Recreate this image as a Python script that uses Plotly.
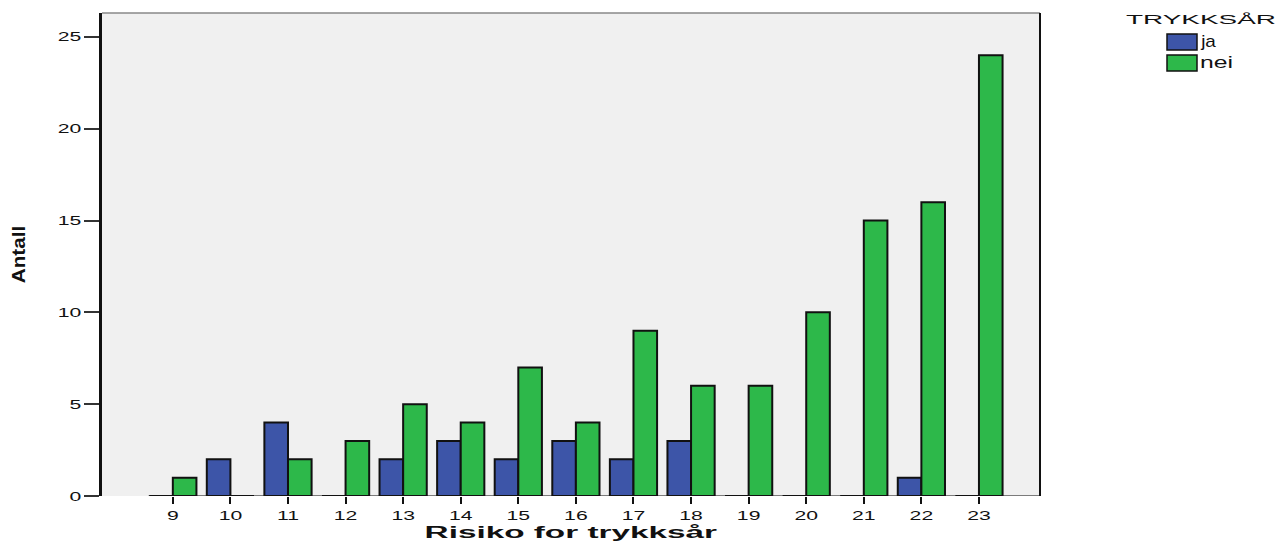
import plotly.graph_objects as go

risiko = [9, 10, 11, 12, 13, 14, 15, 16, 17, 18, 19, 20, 21, 22, 23]
tick_labels = [str(v) for v in risiko]
ja = [0, 2, 4, 0, 2, 3, 2, 3, 2, 3, 0, 0, 0, 1, 0]
nei = [1, 0, 2, 3, 5, 4, 7, 4, 9, 6, 6, 10, 15, 16, 24]
y_ticks = [0, 5, 10, 15, 20, 25]
series_names = ["ja", "nei"]
legend_title = "TRYKKSÅR"

BLUE = "#3D55A8"
GREEN = "#2DB84A"
FONT = "Liberation Sans, Arial, sans-serif"

x_range = [7.77, 24.06]
y_range = [0, 26.3]

# the page adds an 8px body margin; work in page pixels and convert
OFF = 8
PAGE_W, PAGE_H = 1288, 547
W, H = PAGE_W - OFF, PAGE_H - OFF
# plot area in page pixels
L, R, T, B = 102, 1040, 13, 496


def px_x(p):
    return (p - L) / (R - L)


def px_y(p):
    return (B - p) / (B - T)


fig = go.Figure()
fig.add_trace(go.Bar(x=risiko, y=ja, name=series_names[0], showlegend=False,
                     marker=dict(color=BLUE, line=dict(color="#111111", width=2))))
fig.add_trace(go.Bar(x=risiko, y=nei, name=series_names[1], showlegend=False,
                     marker=dict(color=GREEN, line=dict(color="#111111", width=2))))

fig.update_layout(
    width=W, height=H,
    margin=dict(l=L - OFF, r=PAGE_W - R, t=T - OFF, b=PAGE_H - B, autoexpand=False),
    paper_bgcolor="white", plot_bgcolor="#F0F0F0",
    barmode="group", bargap=0.18, bargroupgap=0,
    font=dict(family=FONT, size=13, color="#111111"),
    showlegend=False,
)
fig.update_xaxes(
    range=x_range, tickmode="array", tickvals=risiko, ticktext=tick_labels,
    ticks="outside", ticklen=7, tickwidth=2, tickcolor="#111111",
    showgrid=False, zeroline=False, showline=False, automargin=False,
    tickfont=dict(size=13, family=FONT),
    title=dict(text="<b>Risiko for trykksår</b>", font=dict(size=17, family=FONT), standoff=4),
)
fig.update_yaxes(
    range=y_range, tickmode="array", tickvals=y_ticks, ticktext=[str(t) for t in y_ticks],
    ticks="outside", ticklen=15, tickwidth=2, tickcolor="#333333",
    showgrid=False, zeroline=False, showline=True, linewidth=3, linecolor="#111111",
    automargin=False,
    tickfont=dict(size=13, family=FONT),
    title=dict(text="<b>Antall</b>", font=dict(size=18, family=FONT), standoff=37),
)
# frame: gray top, black right, baseline from first bar to the right edge
fig.add_shape(type="line", xref="paper", yref="paper", x0=0, x1=1, y0=1, y1=1,
              line=dict(color="#888888", width=1.5))
fig.add_shape(type="line", xref="paper", yref="paper", x0=1, x1=1, y0=0, y1=1,
              line=dict(color="#111111", width=2))
fig.add_shape(type="line", xref="x", yref="y", x0=risiko[0] - 0.42, x1=x_range[1], y0=0, y1=0,
              line=dict(color="#555555", width=1.5), layer="below")

# legend (drawn by hand to match the large swatches)
fig.add_annotation(xref="paper", yref="paper", x=px_x(1124), y=px_y(19), showarrow=False,
                   text=legend_title, font=dict(size=13, family=FONT),
                   xanchor="left", yanchor="middle")
for name, color, y0, y1 in [(series_names[0], BLUE, 34, 50), (series_names[1], GREEN, 55, 71)]:
    fig.add_shape(type="rect", xref="paper", yref="paper",
                  x0=px_x(1167), x1=px_x(1197), y0=px_y(y1), y1=px_y(y0),
                  fillcolor=color, line=dict(color="#111111", width=1.5))
    fig.add_annotation(xref="paper", yref="paper", x=px_x(1198), y=px_y((y0 + y1) / 2 - 1),
                       showarrow=False, text=name, font=dict(size=16, family=FONT),
                       xanchor="left", yanchor="middle")

# the reference's text is drawn stretched; widen the glyphs in place (text stays text)
stretch_js = """
var gd = document.getElementById('{plot_id}');
function scaleText(t, k, mode) {
  var b = t.getBBox();
  var anchor = mode || t.getAttribute('text-anchor') || 'start';
  var ax = anchor === 'middle' ? b.x + b.width / 2 : (anchor === 'end' ? b.x + b.width : b.x);
  var tr = t.getAttribute('transform') || '';
  t.setAttribute('transform', tr + ' translate(' + ax + ',0) scale(' + k + ',1) translate(' + (-ax) + ',0)');
}
gd.querySelectorAll('.xtick text').forEach(function (t) { scaleText(t, 1.63); });
gd.querySelectorAll('.ytick text').forEach(function (t) { scaleText(t, 1.63); });
gd.querySelectorAll('.g-xtitle text').forEach(function (t) { scaleText(t, 1.96); });
gd.querySelectorAll('.g-ytitle text').forEach(function (t) { scaleText(t, 1.15); });
var targets = [150, 16, 33];
gd.querySelectorAll('.annotation-text').forEach(function (t, i) {
  var w = t.getBBox().width;
  if (w > 0 && targets[i]) { scaleText(t, targets[i] / w, 'start'); }
});
"""

fig.write_html("out.html", post_script=stretch_js)
